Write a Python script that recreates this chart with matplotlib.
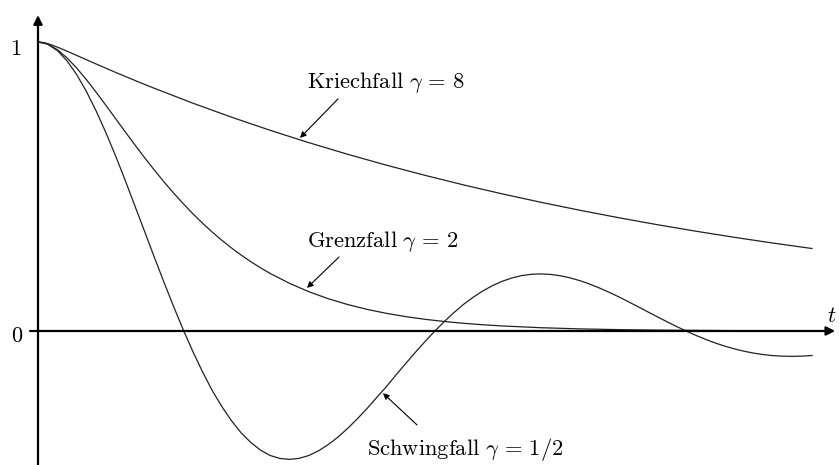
import numpy as np
import matplotlib
matplotlib.use("Agg")
import matplotlib.pyplot as plt

plt.rcParams['mathtext.fontset'] = 'cm'
plt.rcParams['font.family'] = 'serif'

# values (damped oscillator, x(0)=1, x'(0)=0)
t_kriech = [0, 0.025, 0.05, 0.1, 0.15, 0.2, 0.25, 0.35, 0.5, 0.75, 1, 1.25, 1.5,
            2, 2.5, 3, 3.5, 4, 4.5, 5, 5.5, 6, 6.5, 7, 7.5, 8, 8.5, 9, 9.5, 10]
x_kriech = [1.0, 0.9997, 0.9989, 0.9961, 0.9922, 0.9875, 0.9823, 0.9712, 0.9535,
            0.9240, 0.8951, 0.8672, 0.8401, 0.7884, 0.7399, 0.6943, 0.6516,
            0.6115, 0.5739, 0.5386, 0.5054, 0.4743, 0.4452, 0.4178, 0.3921,
            0.3679, 0.3453, 0.3240, 0.3041, 0.2854]

t_grenz = [0, 0.1, 0.125, 0.25, 0.375, 0.5, 0.625, 0.75, 0.875, 1, 1.125, 1.25,
           1.375, 1.5, 1.625, 1.75, 1.875, 2, 2.125, 2.25, 2.375, 2.5, 2.625,
           2.75, 2.875, 3, 3.25, 3.5, 3.75, 4, 4.25, 4.5, 4.75, 5, 5.25, 5.5,
           5.75, 6, 6.5, 7, 7.5, 8, 9, 10]
x_grenz = [1.0, 0.9953, 0.9928, 0.9735, 0.9450, 0.9098, 0.8698, 0.8266, 0.7816,
           0.7358, 0.6899, 0.6446, 0.6005, 0.5578, 0.5169, 0.4779, 0.4409,
           0.4060, 0.3732, 0.3426, 0.3139, 0.2873, 0.2626, 0.2397, 0.2186,
           0.1991, 0.1648, 0.1359, 0.1117, 0.0916, 0.0749, 0.0611, 0.0498,
           0.0404, 0.0328, 0.0266, 0.0215, 0.0174, 0.0113, 0.0073, 0.0047,
           0.0030, 0.0012, 0.0005]

t_schwing = [0, 0.125, 0.25, 0.375, 0.5, 0.625, 0.75, 0.875, 1, 1.125, 1.25,
             1.375, 1.5, 1.625, 1.75, 1.875, 2, 2.125, 2.25, 2.375, 2.5, 2.625,
             2.75, 2.875, 3, 3.125, 3.25, 3.375, 3.5, 3.625, 3.75, 3.875, 4,
             4.125, 4.25, 4.375, 4.5, 4.625, 4.75, 4.875, 5, 5.125, 5.25, 5.375,
             5.5, 5.625, 5.75, 5.875, 6, 6.125, 6.25, 6.375, 6.5, 6.625, 6.75,
             6.875, 7, 7.125, 7.25, 7.375, 7.5, 7.625, 7.75, 7.875, 8, 8.125,
             8.25, 8.375, 8.5, 8.625, 8.75, 8.875, 9, 9.125, 9.25, 9.375, 9.5,
             9.625, 9.75, 9.875, 10]
x_schwing = [1.0, 0.9924, 0.9702, 0.9347, 0.8871, 0.8291, 0.7620, 0.6875,
             0.6078, 0.5223, 0.4341, 0.3461, 0.2574, 0.1703, 0.0859, 0.0052,
             -0.0705, -0.1408, -0.2055, -0.2614, -0.3107, -0.3526, -0.3859,
             -0.4124, -0.4308, -0.4411, -0.4443, -0.4406, -0.4308, -0.4145,
             -0.3931, -0.3672, -0.3373, -0.3040, -0.2686, -0.2304, -0.1930,
             -0.1521, -0.1128, -0.0740, -0.0367, -0.0008, 0.0327, 0.0639,
             0.0925, 0.1172, 0.1390, 0.1574, 0.1722, 0.1837, 0.1918, 0.1962,
             0.1974, 0.1957, 0.1911, 0.1838, 0.1742, 0.1626, 0.1492, 0.1344,
             0.1186, 0.1017, 0.0842, 0.0668, 0.0493, 0.0322, 0.0156, -0.0003,
             -0.0152, -0.0289, -0.0416, -0.0525, -0.0621, -0.0702, -0.0767,
             -0.0818, -0.0853, -0.0872, -0.0877, -0.0869, -0.0848]

labels = [r'$\mathrm{Kriechfall}\ \gamma\,=\,8$',
          r'$\mathrm{Grenzfall}\ \gamma\,=\,2$',
          r'$\mathrm{Schwingfall}\ \gamma\,=\,1/2$']

fig = plt.figure(figsize=(8.39, 4.65), dpi=100)
ax = fig.add_axes([0, 0, 1, 1])
ax.set_xlim(-0.491, 10.349)
ax.set_ylim(-0.4637, 1.1453)
ax.axis('off')

lw = 0.9
ax.plot(t_kriech, x_kriech, color='#222222', lw=lw)
ax.plot(t_grenz, x_grenz, color='#222222', lw=lw)
ax.plot(t_schwing, x_schwing, color='#222222', lw=lw)

# axes with arrow heads
ax.annotate('', xy=(10.30, 0), xytext=(-0.103, 0),
            arrowprops=dict(arrowstyle='-|>', lw=1.6, color='black',
                            mutation_scale=13, shrinkA=0, shrinkB=0))
ax.annotate('', xy=(0, 1.093), xytext=(0, -0.47),
            arrowprops=dict(arrowstyle='-|>', lw=1.6, color='black',
                            mutation_scale=13, shrinkA=0, shrinkB=0))

ax.text(-0.284, 0.955, r'$1$', fontsize=16, ha='center', va='baseline')
ax.text(-0.271, -0.038, r'$0$', fontsize=16, ha='center', va='baseline')
ax.text(10.258, 0.031, r'$t$', fontsize=16, ha='center', va='baseline')

# labels with arrows (text position, arrow tail, arrow tip)
arrow_kw = dict(arrowstyle='-|>', lw=0.8, color='black',
                mutation_scale=9, shrinkA=0, shrinkB=0)

fs = 16.2
ax.text(4.49, 0.841, labels[0], fontsize=fs, ha='center', va='baseline')
ax.annotate('', xy=(3.385, 0.668), xytext=(3.876, 0.803), arrowprops=arrow_kw)

ax.text(4.457, 0.291, labels[1], fontsize=fs, ha='center', va='baseline')
ax.annotate('', xy=(3.475, 0.149), xytext=(3.889, 0.256), arrowprops=arrow_kw)

ax.text(5.517, -0.429, labels[2], fontsize=fs, ha='center', va='baseline')
ax.annotate('', xy=(4.457, -0.215), xytext=(4.897, -0.325), arrowprops=arrow_kw)

fig.savefig('out.png', dpi=100)
